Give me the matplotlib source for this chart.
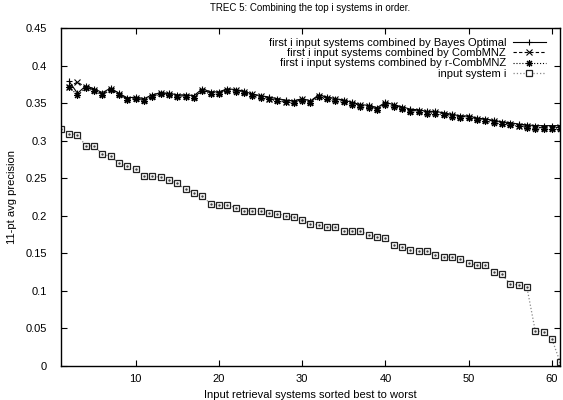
import matplotlib
matplotlib.use("Agg")
import matplotlib.pyplot as plt
from matplotlib.ticker import FormatStrFormatter, MultipleLocator

# systems sorted best to worst
systems = list(range(1, 62))
combined_systems = list(range(2, 62))

input_system = [0.316, 0.309, 0.308, 0.293, 0.293, 0.282, 0.279, 0.270, 0.266, 0.262,
                0.253, 0.253, 0.251, 0.247, 0.243, 0.235, 0.230, 0.226, 0.216, 0.214,
                0.214, 0.211, 0.207, 0.206, 0.206, 0.204, 0.203, 0.200, 0.198, 0.194,
                0.189, 0.188, 0.185, 0.185, 0.180, 0.180, 0.180, 0.174, 0.172, 0.170,
                0.161, 0.158, 0.155, 0.153, 0.153, 0.148, 0.145, 0.145, 0.142, 0.137,
                0.134, 0.134, 0.125, 0.122, 0.109, 0.108, 0.105, 0.047, 0.045, 0.036,
                0.005]

bayes_optimal = [0.379, 0.363, 0.373, 0.369, 0.364, 0.370, 0.363, 0.357, 0.358, 0.356,
                 0.361, 0.364, 0.363, 0.361, 0.361, 0.360, 0.369, 0.365, 0.365, 0.369,
                 0.368, 0.366, 0.362, 0.360, 0.358, 0.356, 0.354, 0.353, 0.356, 0.353,
                 0.361, 0.358, 0.356, 0.354, 0.351, 0.348, 0.347, 0.344, 0.351, 0.348,
                 0.345, 0.342, 0.341, 0.339, 0.339, 0.337, 0.335, 0.333, 0.333, 0.330,
                 0.329, 0.327, 0.325, 0.324, 0.322, 0.321, 0.320, 0.320, 0.320, 0.320]

comb_mnz = [0.372, 0.378, 0.371, 0.368, 0.362, 0.369, 0.362, 0.355, 0.357, 0.354,
            0.359, 0.363, 0.362, 0.359, 0.360, 0.358, 0.367, 0.364, 0.364, 0.368,
            0.367, 0.365, 0.362, 0.359, 0.356, 0.354, 0.352, 0.351, 0.355, 0.352,
            0.360, 0.357, 0.356, 0.353, 0.350, 0.347, 0.346, 0.342, 0.350, 0.347,
            0.344, 0.340, 0.340, 0.338, 0.338, 0.336, 0.334, 0.332, 0.332, 0.329,
            0.328, 0.326, 0.324, 0.322, 0.320, 0.319, 0.318, 0.317, 0.317, 0.318]

r_comb_mnz = [0.371, 0.361, 0.370, 0.366, 0.361, 0.367, 0.361, 0.354, 0.356, 0.353,
              0.358, 0.362, 0.361, 0.358, 0.358, 0.357, 0.366, 0.362, 0.362, 0.366,
              0.365, 0.363, 0.359, 0.357, 0.355, 0.353, 0.351, 0.350, 0.353, 0.350,
              0.358, 0.355, 0.353, 0.351, 0.348, 0.345, 0.344, 0.341, 0.348, 0.345,
              0.342, 0.338, 0.338, 0.336, 0.336, 0.334, 0.332, 0.330, 0.330, 0.327,
              0.326, 0.324, 0.322, 0.321, 0.319, 0.317, 0.316, 0.315, 0.315, 0.316]

labels = ["first i input systems combined by Bayes Optimal",
          "first i input systems combined by CombMNZ",
          "first i input systems combined by r-CombMNZ",
          "input system i"]

plt.rcParams['font.family'] = ['Liberation Sans', 'DejaVu Sans']
plt.rcParams['font.size'] = 8

fig = plt.figure(figsize=(5.63, 4.0), dpi=100)
ax = fig.add_axes([0.108, 0.085, 0.887, 0.845])

ax.plot(combined_systems, bayes_optimal, color='black', linestyle='-', linewidth=0.8,
        marker='+', markersize=5, markeredgewidth=0.8, label=labels[0])
ax.plot(combined_systems, comb_mnz, color='black', linestyle='--', linewidth=0.8,
        dashes=(3, 2), marker='x', markersize=4, markeredgewidth=0.8, label=labels[1])
ax.plot(combined_systems, r_comb_mnz, color='black', linestyle=':', linewidth=0.8,
        marker=(8, 2, 0), markersize=5, markeredgewidth=0.8, label=labels[2])
ax.plot(systems, input_system, color='#888888', linestyle=':', linewidth=0.9,
        marker='s', markersize=5, markerfacecolor='white', markeredgecolor='#222222',
        markeredgewidth=0.9, label=labels[3])
ax.plot(systems, input_system, linestyle='none', marker='.', markersize=1.5,
        color='#444444')

ax.set_xlim(1, 61)
ax.set_ylim(0, 0.45)
ax.xaxis.set_major_locator(MultipleLocator(10))
ax.yaxis.set_major_locator(MultipleLocator(0.05))
ax.yaxis.set_major_formatter(FormatStrFormatter('%g'))
ax.tick_params(direction='in', length=4, width=0.8, top=True, right=True, labelsize=8)
ax.tick_params(axis='y', pad=10)
ax.tick_params(axis='x', pad=6)
for side in ax.spines.values():
    side.set_linewidth(1.0)

ax.set_title("TREC 5: Combining the top i systems in order.", fontsize=7, pad=12)
ax.set_xlabel("Input retrieval systems sorted best to worst", fontsize=8, labelpad=4)
ax.set_ylabel("11-pt avg precision", fontsize=8, labelpad=6)

leg = ax.legend(loc='upper right', bbox_to_anchor=(0.985, 0.99), frameon=False,
                markerfirst=False, handlelength=3.0, handletextpad=0.6,
                labelspacing=0.02, borderaxespad=0.2, fontsize=8)

fig.savefig("out.png", dpi=100)
